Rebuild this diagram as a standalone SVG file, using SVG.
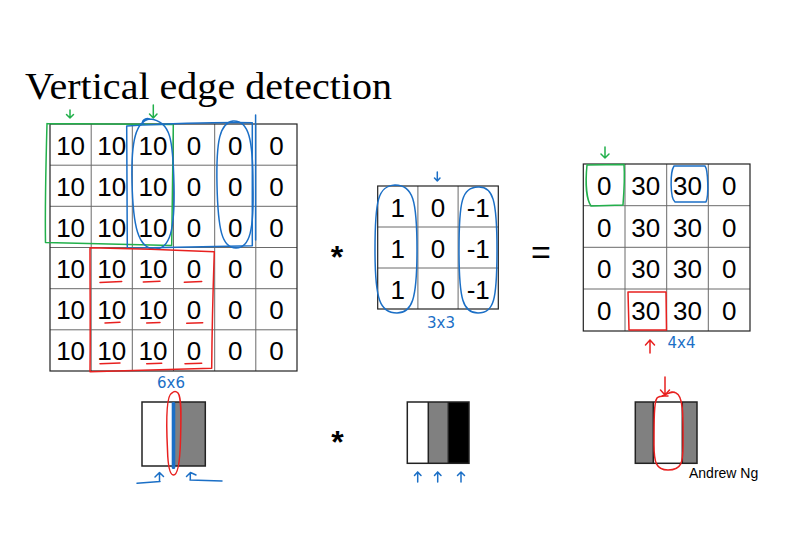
<svg xmlns="http://www.w3.org/2000/svg" width="786" height="544" viewBox="0 0 786 544">
<style>
.num{font-family:"Liberation Sans",Arial,sans-serif;font-size:26px;fill:#000;text-anchor:middle}
.op{font-family:"Liberation Sans",Arial,sans-serif;fill:#000;text-anchor:middle}
.grid{fill:none;stroke:#6a6a6a;stroke-width:1}
.border{fill:none;stroke:#222;stroke-width:1.2}
.hand{fill:none;stroke-width:1.5;stroke-linecap:round;stroke-linejoin:round}
.g{stroke:#22b04b}.b{stroke:#1b6fc6}.r{stroke:#e8201f}
.htxt{font-family:"DejaVu Sans",sans-serif;font-size:15px;fill:#1b6fc6;text-anchor:middle}
.box{stroke:#222;stroke-width:1.5}
</style>
<rect width="786" height="544" fill="#fff"/>
<text x="25" y="99" font-family="'Liberation Serif','Times New Roman',serif" font-size="37" textLength="367" lengthAdjust="spacingAndGlyphs">Vertical edge detection</text>

<g id="input6x6">
<path class="grid" d="M91.2 124V371M132.3 124V371M173.5 124V371M214.7 124V371M255.8 124V371M50 165.2H297M50 206.3H297M50 247.5H297M50 288.7H297M50 329.8H297"/>
<rect class="border" x="50" y="124" width="247" height="247"/>
<g class="num">
<text x="70.6" y="154.6">10</text><text x="111.8" y="154.6">10</text><text x="152.9" y="154.6">10</text><text x="194.1" y="154.6">0</text><text x="235.3" y="154.6">0</text><text x="276.4" y="154.6">0</text>
<text x="70.6" y="195.8">10</text><text x="111.8" y="195.8">10</text><text x="152.9" y="195.8">10</text><text x="194.1" y="195.8">0</text><text x="235.3" y="195.8">0</text><text x="276.4" y="195.8">0</text>
<text x="70.6" y="236.9">10</text><text x="111.8" y="236.9">10</text><text x="152.9" y="236.9">10</text><text x="194.1" y="236.9">0</text><text x="235.3" y="236.9">0</text><text x="276.4" y="236.9">0</text>
<text x="70.6" y="278.1">10</text><text x="111.8" y="278.1">10</text><text x="152.9" y="278.1">10</text><text x="194.1" y="278.1">0</text><text x="235.3" y="278.1">0</text><text x="276.4" y="278.1">0</text>
<text x="70.6" y="319.3">10</text><text x="111.8" y="319.3">10</text><text x="152.9" y="319.3">10</text><text x="194.1" y="319.3">0</text><text x="235.3" y="319.3">0</text><text x="276.4" y="319.3">0</text>
<text x="70.6" y="360.4">10</text><text x="111.8" y="360.4">10</text><text x="152.9" y="360.4">10</text><text x="194.1" y="360.4">0</text><text x="235.3" y="360.4">0</text><text x="276.4" y="360.4">0</text>
</g>
</g>

<g id="filter3x3">
<path class="grid" d="M417.9 186V309M458.1 186V309M377.7 227H498.3M377.7 268H498.3"/>
<rect class="border" x="377.7" y="186" width="120.6" height="123"/>
<g class="num">
<text x="397.8" y="216.5">1</text><text x="437.9" y="216.5">0</text><text x="478.2" y="216.5">-1</text>
<text x="397.8" y="257.5">1</text><text x="437.9" y="257.5">0</text><text x="478.2" y="257.5">-1</text>
<text x="397.8" y="298.5">1</text><text x="437.9" y="298.5">0</text><text x="478.2" y="298.5">-1</text>
</g>
</g>

<g id="output4x4">
<path class="grid" d="M625 164V331M666.7 164V331M708.3 164V331M583.3 205.7H750M583.3 247.3H750M583.3 289H750"/>
<rect class="border" x="583.3" y="164" width="166.7" height="167"/>
<g class="num">
<text x="604.2" y="194.8">0</text><text x="645.8" y="194.8">30</text><text x="687.5" y="194.8">30</text><text x="729.2" y="194.8">0</text>
<text x="604.2" y="236.5">0</text><text x="645.8" y="236.5">30</text><text x="687.5" y="236.5">30</text><text x="729.2" y="236.5">0</text>
<text x="604.2" y="278.2">0</text><text x="645.8" y="278.2">30</text><text x="687.5" y="278.2">30</text><text x="729.2" y="278.2">0</text>
<text x="604.2" y="319.8">0</text><text x="645.8" y="319.8">30</text><text x="687.5" y="319.8">30</text><text x="729.2" y="319.8">0</text>
</g>
</g>

<g id="operators">
<text class="op" x="337" y="268" font-size="32" font-weight="bold">*</text>
<text class="op" x="541" y="264" font-size="34">=</text>
<text class="op" x="337.5" y="453" font-size="32" font-weight="bold">*</text>
</g>

<g id="image1">
<rect x="142" y="402" width="31.7" height="64" fill="#fff"/>
<rect x="173.7" y="402" width="31.6" height="64" fill="#808080"/>
<rect class="box" x="142" y="402" width="63.3" height="64" fill="none"/>
</g>
<g id="image2">
<rect x="407.3" y="402" width="21" height="61.3" fill="#fff"/>
<rect x="428.3" y="402" width="20" height="61.3" fill="#808080"/>
<rect x="448.3" y="402" width="20.7" height="61.3" fill="#000"/>
<path class="box" fill="none" d="M428.3 402V463.3M448.3 402V463.3"/>
<rect class="box" x="407.3" y="402" width="61.7" height="61.3" fill="none"/>
</g>
<g id="image3">
<rect x="635.3" y="402" width="18" height="61.3" fill="#808080"/>
<rect x="653.3" y="402" width="29" height="61.3" fill="#fff"/>
<rect x="682.3" y="402" width="14.7" height="61.3" fill="#808080"/>
<path class="box" fill="none" d="M653.3 402V463.3M682.3 402V463.3"/>
<rect class="box" x="635.3" y="402" width="61.7" height="61.3" fill="none"/>
</g>
<text id="credit" x="689" y="478" font-family="'Liberation Sans',Arial,sans-serif" font-size="14" fill="#000">Andrew Ng</text>

<g id="annotations">
<!-- green on input -->
<path class="hand g" d="M47 123.5L172 124.5M47 123.5C46 160 45 210 45.5 242.5L171.7 245.5M173.3 125L171.7 245.5"/>
<path class="hand g" d="M70 110V118M66.5 114.5L70 118L73.5 114.5M153.3 105V118M149.5 114L153.3 118L157 114"/>
<!-- blue on input -->
<path class="hand b" d="M126.7 126C127 170 127.2 210 127.3 248.3L252.3 245.7L252.3 122.7C210 122 165 124 126.7 126Z"/>
<path class="hand b" d="M255.6 115V240"/>
<path class="hand b" d="M150 119C136 121 131 140 132 182C133 226 138 249 155 249C170 249 175 230 174 185C173 140 171 121 150 119C145 117 140 122 144 124"/>
<path class="hand b" d="M233 121C220 123 216 140 217 185C218 230 222 248 236 248C250 248 254 230 253 185C253 140 249 120 233 121Z"/>
<!-- red on input -->
<path class="hand r" d="M90 247.7C90 290 90.5 330 90 371.7L211.7 368.3C212 330 213 290 214.3 251.7C175 250 130 248.5 90 247.7Z"/>
<path class="hand r" d="M100 282.5L121.7 281.5M143.3 282L160 281.3M184.3 282.3L201.7 281.5M105 323L120 322.3M146.7 323L160 322.5M186.7 323.2L202.7 322.8M100 363.8L120 363M146.7 363.7L161.7 363.2M185 363.8L201.7 363.3"/>
<text class="htxt" x="171" y="388">6x6</text>
<!-- filter -->
<path class="hand b" d="M395 185C378 186 375 200 375 250C375 300 380 313 397 313C412 313 417 300 417 250C417 200 413 185 395 185Z"/>
<path class="hand b" d="M478 187C462 188 459 200 459 250C459 300 463 313 478 313C494 313 497 300 497 250C497 200 493 186 478 187Z"/>
<path class="hand b" d="M437.3 172V181M434.5 178L437.3 181L440 178"/>
<text class="htxt" x="441" y="328">3x3</text>
<!-- output -->
<path class="hand g" d="M587 165L624 164.5C625 178 624 192 623 205L591 206C587 200 585 185 587 165Z"/>
<path class="hand g" d="M605 147V158M601 154L605 158L609 154"/>
<path class="hand b" d="M674 166L705 166C708 170 709 195 706 202L675 202C670 198 670 172 674 166Z"/>
<path class="hand r" d="M628 292L666 292L666.5 330L629 330Z"/>
<path class="hand r" d="M650 353V340M645.5 345L650 340L654.5 345"/>
<text class="htxt" x="681.5" y="348">4x4</text>
<!-- image1 -->
<rect x="171.7" y="402" width="3.6" height="67" rx="1.5" fill="#1b6fc6"/>
<path class="hand r" d="M172 393C166 395 166 420 167.5 450C168 468 170 475 173.5 475C178 475 180 460 180.5 440C181 420 182 398 178 393C176 391 174 391 172 393Z"/>
<path class="hand b" d="M137 483.3L160 481.5M159.5 481V473M155 477L159.5 472.5L163.5 476.5M222 481L190 480M190.3 480V473M186.5 476.5L190.5 472.5L196 475"/>
<!-- image2 arrows -->
<path class="hand b" d="M417.7 482V472M414.5 475.5L417.7 472L421 475.5M437.7 482V472M434.5 475.5L437.7 472L441 475.5M461 482V472M457.5 475.5L461 472L464.5 475.5"/>
<!-- image3 -->
<path class="hand r" d="M665 377V395M660.5 390L665 395L669.5 390"/>
<path class="hand r" d="M662 396C668 394 672 390 676 393C684 396 683 420 683 445C683 462 682 470 668 470C656 470 654 462 654 445C654 420 654 402 657 398C660 395 665 396 668 396"/>
</g>
</svg>
